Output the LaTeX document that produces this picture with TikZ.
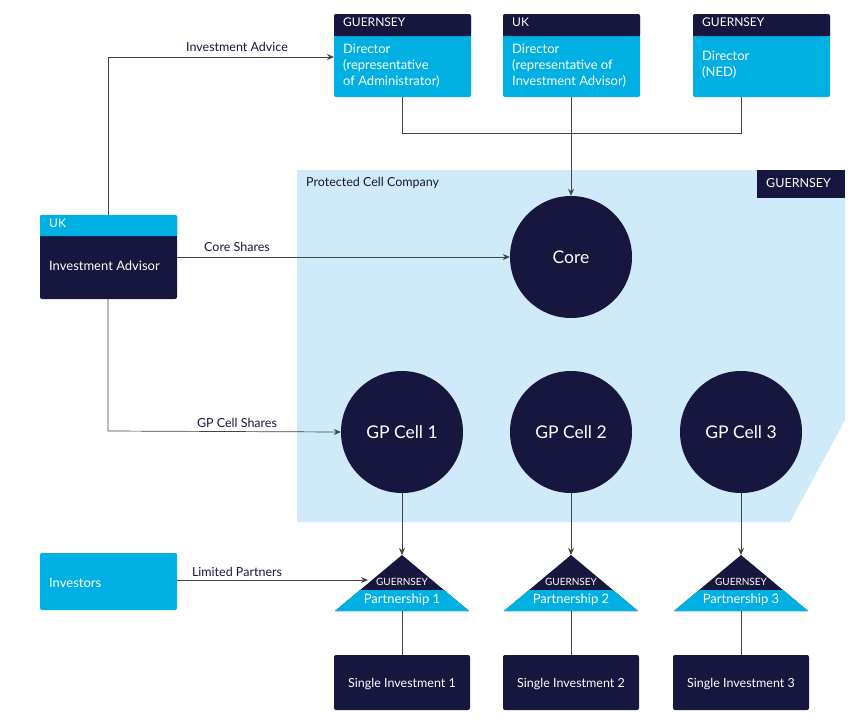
\documentclass[tikz,border=0pt]{standalone}
\usepackage{fontspec}
\setmainfont{Lato}
\usetikzlibrary{arrows.meta}
\definecolor{navy}{HTML}{16163F}
\definecolor{cy}{HTML}{00B0E3}
\definecolor{lb}{HTML}{CFEAF8}
\definecolor{ln}{HTML}{444444}
\begin{document}
\begin{tikzpicture}[x=1pt,y=-1pt,
  conn/.style={draw=ln,line width=0.7pt},
  arr/.style={conn,-{Stealth[length=7pt,width=6pt]}},
  lab/.style={font=\fontsize{12.5}{14}\selectfont,text=navy,inner sep=1pt},
  circ/.style={circle,fill=navy,minimum size=122pt,text=white,font=\fontsize{17.5}{20}\selectfont,inner sep=0},
  wt/.style={text=white,align=left,anchor=north west,inner sep=0,font=\fontsize{13}{16}\selectfont}]
\useasboundingbox (0,0) rectangle (856,723);
% PCC region
\fill[lb] (297,170) -- (845,170) -- (845,420) -- (790,522) -- (297,522) -- cycle;
\fill[navy] (757,170) rectangle (845,198);
\node[wt,font=\fontsize{12.5}{14}\selectfont] (pccg) at (766,178) {GUERNSEY};
\node[lab,anchor=west] (pcc) at (305,183) {Protected Cell Company};
% top boxes
\foreach \x/\h/\t/\n in {334/GUERNSEY/{Director\\(representative\\of Administrator)}/a, 503/UK/{Director\\(representative of\\Investment Advisor)}/b, 693/GUERNSEY/{\\Director\\(NED)}/c}{
  \fill[cy,rounded corners=2pt] (\x,14) rectangle ++(137,83);
  \fill[navy,rounded corners=2pt] (\x,14) rectangle ++(137,22);
  \fill[navy] (\x,30) rectangle ++(137,6);
  \node[wt,font=\fontsize{12}{14}\selectfont] at (\x+9,18) {\h};
  \node[wt] at (\x+9,44) {\t};
}
\coordinate (da) at (402,97); \coordinate (db) at (571,97); \coordinate (dc) at (741,97);
\coordinate (dal) at (334,57);
% circles
\node[circ] (core) at (571,257) {Core};
\node[circ] (g1) at (402,432) {GP Cell 1};
\node[circ] (g2) at (571,432) {GP Cell 2};
\node[circ] (g3) at (741,432) {GP Cell 3};
\draw[conn] (da) -- (402,133) -- (741,133) -- (dc);
\draw[arr] (db) -- (core.north);
% Investment Advisor
\fill[navy,rounded corners=2pt] (40,215) rectangle (177,299);
\fill[cy,rounded corners=2pt] (40,215) rectangle (177,236);
\fill[cy] (40,230) rectangle (177,236);
\node[wt,font=\fontsize{12}{14}\selectfont] (ukia) at (49,219) {UK};
\node[wt,anchor=west] (ia) at (49,266) {Investment Advisor};
\coordinate (iat) at (108,215); \coordinate (iab) at (108,299); \coordinate (iar) at (177,257);
\draw[arr] (iat) -- (108,57) -- (dal);
\node[lab] at (237,47) {Investment Advice};
\draw[arr] (iar) -- (core.west);
\node[lab] at (237,247) {Core Shares};
\draw[arr] (iab) -- (108,431) -- (g1.west);
\node[lab] at (237,423) {GP Cell Shares};
% Investors
\fill[cy,rounded corners=2pt] (40,553) rectangle (177,610);
\node[wt,anchor=west] (inv) at (49,583) {Investors};
\coordinate (invr) at (177,580);
% partnerships
\foreach \x/\i in {402/1,571/2,741/3}{
  \fill[navy] (\x,555) -- (\x+67,611) -- (\x-67,611) -- cycle;
  \fill[cy] (\x-42,590) -- (\x+42,590) -- (\x+67,611) -- (\x-67,611) -- cycle;
  \node[text=white,font=\fontsize{10}{11}\selectfont,inner sep=0] at (\x,582) {GUERNSEY};
  \node[text=white,font=\fontsize{13}{15}\selectfont,inner sep=0] at (\x,600) {Partnership \i};
  \coordinate (pt\i) at (\x,555); \coordinate (pb\i) at (\x,611);
  \fill[navy,rounded corners=2pt] (\x-68,655) rectangle (\x+68,710);
  \node[text=white,font=\fontsize{12.5}{14}\selectfont] (s\i) at (\x,684) {Single Investment \i};
  \coordinate (st\i) at (\x,655);
  \draw[conn] (pb\i) -- (st\i);
}
\draw[arr] (g1.south) -- (pt1);
\draw[arr] (g2.south) -- (pt2);
\draw[arr] (g3.south) -- (pt3);
\draw[arr] (invr) -- (368,580);
\node[lab] at (237,572) {Limited Partners};
\end{tikzpicture}
\end{document}
